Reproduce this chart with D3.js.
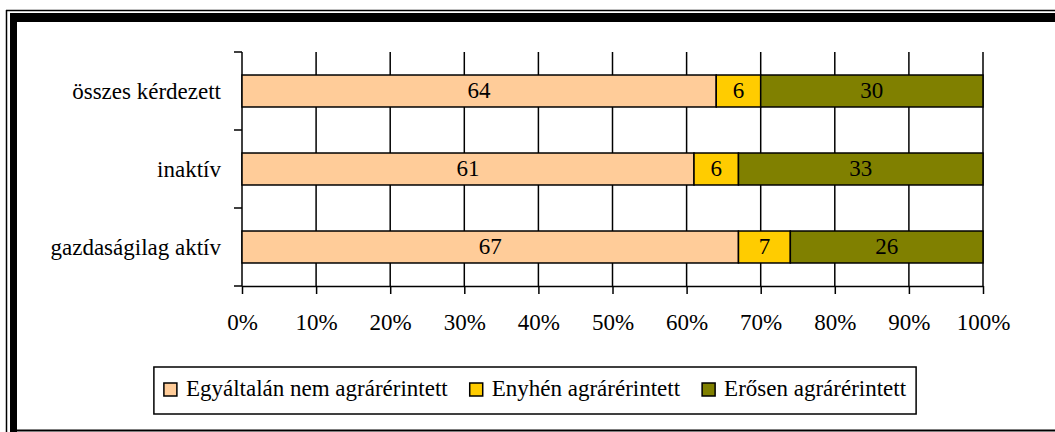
<!DOCTYPE html>
<html>
<head>
<meta charset="utf-8">
<script src="https://cdn.jsdelivr.net/npm/d3@7"></script>
<style>
  body { margin: 0; background: #fff; }
</style>
</head>
<body>
<div id="chart"></div>
<script>
// data
const categories = ["összes kérdezett", "inaktív", "gazdaságilag aktív"];
const seriesNames = ["Egyáltalán nem agrárérintett", "Enyhén agrárérintett", "Erősen agrárérintett"];
const seriesColors = ["#FFCC99", "#FFCC00", "#808000"];
const notAffected = [64, 61, 67];
const slightly = [6, 6, 7];
const strongly = [30, 33, 26];
const xTicks = [0, 10, 20, 30, 40, 50, 60, 70, 80, 90, 100];

const width = 1055, height = 432;
const margin = {top: 52, right: 72, bottom: 146, left: 242};
const fontFamily = "'Liberation Serif', 'Times New Roman', serif";

const svg = d3.select("#chart").append("svg")
    .attr("width", width)
    .attr("height", height);

// frame: thin outer line + thick inner line, like the original
svg.append("line").attr("x1", 6).attr("x2", width).attr("y1", 10.5).attr("y2", 10.5)
  .attr("stroke", "#000").attr("stroke-width", 1.5);
svg.append("line").attr("x1", 6.5).attr("x2", 6.5).attr("y1", 10).attr("y2", height)
  .attr("stroke", "#000").attr("stroke-width", 1.5);
svg.append("rect").attr("x", 10).attr("y", 13).attr("width", width - 10).attr("height", 9).attr("fill", "#000");
svg.append("rect").attr("x", 10).attr("y", 13).attr("width", 7).attr("height", height - 13).attr("fill", "#000");
svg.append("line").attr("x1", 10).attr("x2", width).attr("y1", 430.5).attr("y2", 430.5)
  .attr("stroke", "#000").attr("stroke-width", 2);

let xScale = d3.scaleLinear().domain([0, 100]).range([margin.left, width - margin.right]);
let yScale = d3.scaleBand().domain(categories).range([margin.top, height - margin.bottom]).padding(0);
const barFrac = 0.41;

// stacked data
let rows = categories.map((c, i) => ({cat: c, 0: notAffected[i], 1: slightly[i], 2: strongly[i]}));
let stacked = d3.stack().keys([0, 1, 2])(rows);

// vertical grid lines
svg.append("g").attr("class", "grid")
  .selectAll("line").data(xTicks.slice(1)).enter().append("line")
  .attr("x1", d => xScale(d)).attr("x2", d => xScale(d))
  .attr("y1", margin.top).attr("y2", height - margin.bottom)
  .attr("stroke", "#000").attr("stroke-width", 1.5);

// x axis
let xAxis = svg.append("g")
  .attr("transform", "translate(0," + (height - margin.bottom) + ")")
  .call(d3.axisBottom(xScale).tickValues(xTicks).tickSize(8).tickSizeOuter(0).tickPadding(20)
    .tickFormat(d => d + "%"));
xAxis.select(".domain").attr("stroke-width", 1.5);
xAxis.selectAll(".tick line").attr("stroke-width", 1.5);

// y axis: ticks sit on the category boundaries
let yAxis = svg.append("g").attr("transform", "translate(" + margin.left + ",0)");
yAxis.append("line").attr("x1", 0).attr("x2", 0)
  .attr("y1", margin.top).attr("y2", height - margin.bottom)
  .attr("stroke", "#000").attr("stroke-width", 1.5);
let bounds = categories.map(c => yScale(c)).concat([yScale.range()[1]]);
yAxis.selectAll(".ytick").data(bounds).enter().append("line")
  .attr("x1", -8).attr("x2", 0).attr("y1", d => d).attr("y2", d => d)
  .attr("stroke", "#000").attr("stroke-width", 1.5);
yAxis.selectAll(".ylabel").data(categories).enter().append("text")
  .attr("x", -21)
  .attr("y", d => yScale(d) + yScale.bandwidth() / 2)
  .attr("dy", "0.35em")
  .attr("text-anchor", "end")
  .text(d => d);

// bars
let barH = yScale.bandwidth() * barFrac;
let layers = svg.append("g").selectAll("g").data(stacked).enter().append("g")
  .attr("fill", (d, i) => seriesColors[i]);
layers.selectAll("rect").data(d => d).enter().append("rect")
  .attr("x", d => xScale(d[0]))
  .attr("y", d => yScale(d.data.cat) + (yScale.bandwidth() - barH) / 2)
  .attr("width", d => xScale(d[1]) - xScale(d[0]))
  .attr("height", barH)
  .attr("stroke", "#000").attr("stroke-width", 1.5);
layers.selectAll("text").data(d => d).enter().append("text")
  .attr("x", d => (xScale(d[0]) + xScale(d[1])) / 2)
  .attr("y", d => yScale(d.data.cat) + yScale.bandwidth() / 2)
  .attr("dy", "0.3em")
  .attr("text-anchor", "middle")
  .attr("fill", "#000")
  .text(d => d[1] - d[0]);

// legend
let legend = svg.append("g");
let legendBox = legend.append("rect").attr("fill", "#fff").attr("stroke", "#000").attr("stroke-width", 1.5);
let items = legend.selectAll(".item").data(seriesNames).enter().append("g");
items.each(function(name, i) {
  let g = d3.select(this);
  g.append("rect").attr("x", 0).attr("y", -13).attr("width", 13).attr("height", 13)
    .attr("fill", seriesColors[i]).attr("stroke", "#000").attr("stroke-width", 1.5);
  g.append("text").attr("x", 22).attr("y", 0).text(name);
});

// one font for every text
svg.selectAll("text")
  .style("font-family", fontFamily)
  .style("font-size", "23px")
  .style("fill", "#000");

// lay legend items out after the font is set
let lx = 0, offsets = [];
items.each(function() {
  offsets.push(lx);
  lx += 22 + d3.select(this).select("text").node().getComputedTextLength() + 22;
});
let boxW = lx - 22 + 20, boxX = 535 - boxW / 2;
legendBox.attr("x", boxX).attr("y", 367).attr("width", boxW).attr("height", 47);
items.attr("transform", (d, i) => "translate(" + (boxX + 10 + offsets[i]) + ",396)");
</script>
</body>
</html>
